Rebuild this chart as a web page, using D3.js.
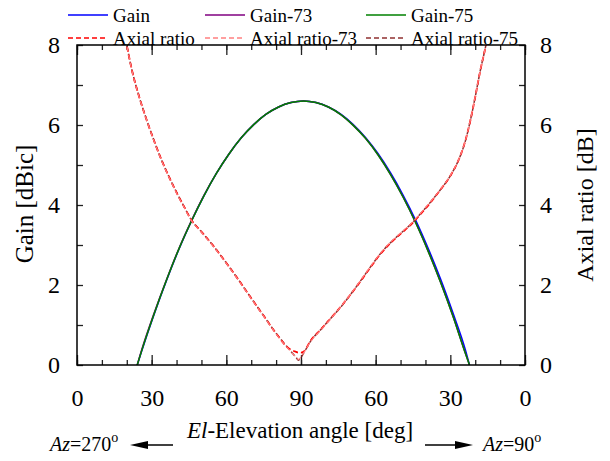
<!DOCTYPE html>
<html>
<head>
<meta charset="utf-8">
<script src="https://cdn.jsdelivr.net/npm/d3@7"></script>
<style>
  body { margin: 0; background: #fff; }
  text { font-family: "Liberation Serif", "Times New Roman", Times, serif; }
  .tick line { stroke: #222; stroke-width: 1.3; }
</style>
</head>
<body>
<svg id="chart" width="610" height="461"></svg>
<script>
var FONT = "'Liberation Serif', 'Times New Roman', Times, serif";

// elevation angle runs 0..90 on the Az=270 side then back 90..0 on the Az=90 side (0..180 here)
var gainAngle = [24.2, 26, 31, 36, 41, 46, 51, 56, 61, 66, 71, 76, 81, 86, 91,
                 96, 101, 106, 111, 116, 121, 126, 131, 136, 141, 146, 151, 156, 157.7];
var gain   = [0, 0.35, 1.27, 2.12, 2.90, 3.60, 4.23, 4.79, 5.27, 5.68, 6.01, 6.27, 6.45, 6.56, 6.60,
              6.56, 6.45, 6.27, 6.01, 5.68, 5.28, 4.80, 4.25, 3.63, 2.93, 2.16, 1.31, 0.39, 0];
var gain73 = [0, 0.38, 1.30, 2.14, 2.92, 3.61, 4.24, 4.79, 5.27, 5.68, 6.01, 6.27, 6.45, 6.56, 6.60,
              6.56, 6.45, 6.26, 5.99, 5.66, 5.25, 4.76, 4.20, 3.57, 2.86, 2.08, 1.23, 0.30, 0];
var gain75 = [0, 0.36, 1.28, 2.13, 2.91, 3.60, 4.23, 4.79, 5.27, 5.68, 6.01, 6.27, 6.45, 6.56, 6.60,
              6.56, 6.45, 6.26, 5.99, 5.66, 5.25, 4.76, 4.20, 3.57, 2.86, 2.08, 1.23, 0.30, 0];

var arAngle = [19, 20, 22, 25, 28, 31, 34, 37, 40, 43, 46, 50, 55, 60, 65, 70, 75, 80, 85, 88, 89, 90,
               91, 94, 98, 102, 106, 110, 114, 118, 122, 126, 130, 134, 138, 142, 146, 150, 153, 156,
               158, 160, 162, 164.3, 165.5];
var ar   = [8.35, 8.0, 7.39, 6.70, 6.12, 5.60, 5.12, 4.70, 4.31, 3.96, 3.62, 3.33, 2.96, 2.55, 2.12, 1.67, 1.23, 0.79, 0.42, 0.33, 0.31, 0.31,
            0.33, 0.62, 0.89, 1.17, 1.46, 1.77, 2.10, 2.45, 2.78, 3.05, 3.28, 3.50, 3.77, 4.06, 4.38, 4.73, 5.08, 5.60,
            6.10, 6.70, 7.35, 8.0, 8.4];
var ar73 = [8.35, 8.0, 7.38, 6.69, 6.12, 5.59, 5.11, 4.69, 4.30, 3.95, 3.61, 3.32, 2.95, 2.54, 2.11, 1.66, 1.22, 0.78, 0.40, 0.20, 0.14, 0.20,
            0.30, 0.60, 0.88, 1.16, 1.46, 1.78, 2.12, 2.47, 2.80, 3.07, 3.30, 3.52, 3.79, 4.08, 4.39, 4.74, 5.09, 5.60,
            6.11, 6.71, 7.36, 8.0, 8.4];
var ar75 = [8.35, 8.0, 7.39, 6.70, 6.13, 5.60, 5.12, 4.70, 4.32, 3.96, 3.62, 3.33, 2.96, 2.55, 2.12, 1.67, 1.23, 0.79, 0.41, 0.19, 0.12, 0.19,
            0.29, 0.61, 0.89, 1.17, 1.45, 1.77, 2.11, 2.46, 2.79, 3.06, 3.29, 3.51, 3.78, 4.07, 4.38, 4.73, 5.08, 5.59,
            6.10, 6.70, 7.35, 8.0, 8.4];

var xMajor = [0, 30, 60, 90, 120, 150, 180];
var yMajor = [0, 2, 4, 6, 8];
var yMinor = [1, 3, 5, 7];

var series = [
  {name: "Gain",           x: gainAngle, y: gain,   color: "#0000ff", dash: null,  w: 1.5, off: 0},
  {name: "Gain-73",        x: gainAngle, y: gain73, color: "#800080", dash: null,  w: 1.5, off: 0},
  {name: "Gain-75",        x: gainAngle, y: gain75, color: "#008000", dash: null,  w: 1.5, off: 0},
  {name: "Axial ratio",    x: arAngle,   y: ar,     color: "#ff0000", dash: "5,3", w: 1.8, off: 0},
  {name: "Axial ratio-73", x: arAngle,   y: ar73,   color: "#ff8080", dash: "5,3", w: 1.2, off: 0},
  {name: "Axial ratio-75", x: arAngle,   y: ar75,   color: "#903030", dash: "5,3", w: 1.5, off: 1}
];
// dark dashes underneath, then red and pink on top
var drawOrder = [0, 1, 2, 5, 3, 4];

var margin = {top: 45, right: 85, bottom: 96, left: 77},
    width = 610 - margin.left - margin.right,
    height = 461 - margin.top - margin.bottom;

var svg = d3.select("#chart").attr("font-family", FONT);
var g = svg.append("g")
    .attr("transform", "translate(" + margin.left + "," + margin.top + ")");

var x = d3.scaleLinear().domain([0, 180]).range([0, width]);
var yL = d3.scaleLinear().domain([0, 8]).range([height, 0]);
var yR = d3.scaleLinear().domain([0, 8]).range([height, 0]);

// clip for curves leaving the frame
g.append("clipPath").attr("id", "clip")
  .append("rect").attr("width", width).attr("height", height);

// x axes (ticks point inward)
g.append("g")
    .attr("transform", "translate(0," + height + ")")
    .call(d3.axisBottom(x).tickValues(d3.range(0, 181, 10)).tickSizeInner(-5).tickSizeOuter(0).tickFormat(""));
g.append("g")
    .attr("transform", "translate(0," + height + ")")
    .call(d3.axisBottom(x).tickValues(xMajor).tickSizeInner(-10).tickSizeOuter(0).tickPadding(24)
      .tickFormat(function(d) { return d <= 90 ? d : 180 - d; }));
g.append("g")
    .call(d3.axisTop(x).tickValues(d3.range(0, 181, 10)).tickSizeInner(-5).tickSizeOuter(0).tickFormat(""));
g.append("g")
    .call(d3.axisTop(x).tickValues(xMajor).tickSizeInner(-10).tickSizeOuter(0).tickFormat(""));

// y axes
g.append("g")
    .call(d3.axisLeft(yL).tickValues(yMajor).tickSizeInner(-6).tickSizeOuter(0).tickPadding(17));
g.append("g")
    .call(d3.axisLeft(yL).tickValues(yMinor).tickSizeInner(-6).tickSizeOuter(0).tickFormat(""));
g.append("g")
    .attr("transform", "translate(" + width + ",0)")
    .call(d3.axisRight(yR).tickValues(yMajor).tickSizeInner(-6).tickSizeOuter(0).tickPadding(15));
g.append("g")
    .attr("transform", "translate(" + width + ",0)")
    .call(d3.axisRight(yR).tickValues(yMinor).tickSizeInner(-6).tickSizeOuter(0).tickFormat(""));

g.selectAll(".domain").remove();
g.selectAll(".tick text")
    .style("font-size", "24px")
    .style("font-family", FONT)
    .attr("fill", "#000");

// curves
var line = d3.line().curve(d3.curveMonotoneX);
drawOrder.forEach(function(i) {
  var s = series[i];
  var scaleY = i < 3 ? yL : yR;
  var pts = s.x.map(function(a, k) { return [x(a), scaleY(s.y[k])]; });
  g.append("path")
    .attr("clip-path", "url(#clip)")
    .attr("d", line(pts))
    .attr("fill", "none")
    .attr("stroke", s.color)
    .attr("stroke-width", s.w)
    .attr("stroke-dasharray", s.dash)
    .attr("stroke-dashoffset", s.off);
});

// frame
g.append("rect")
    .attr("width", width).attr("height", height)
    .attr("fill", "none").attr("stroke", "#000").attr("stroke-width", 1.5);

// axis titles
svg.append("text")
    .attr("transform", "translate(33," + (margin.top + height / 2 - 1) + ") rotate(-90)")
    .attr("text-anchor", "middle")
    .style("font-size", "25px")
    .style("font-family", FONT)
    .text("Gain [dBic]");
svg.append("text")
    .attr("transform", "translate(593," + (margin.top + height / 2) + ") rotate(-90)")
    .attr("text-anchor", "middle")
    .style("font-size", "24px")
    .style("font-family", FONT)
    .text("Axial ratio [dB]");

var xt = svg.append("text")
    .attr("x", 300).attr("y", 438)
    .attr("text-anchor", "middle")
    .style("font-size", "23px")
    .style("font-family", FONT);
xt.append("tspan").style("font-style", "italic").text("El");
xt.append("tspan").text("-Elevation angle [deg]");

// azimuth notes with arrows
function azLabel(xPos, deg) {
  var t = svg.append("text").attr("x", xPos).attr("y", 451)
    .style("font-size", "20px").style("font-family", FONT);
  t.append("tspan").style("font-style", "italic").text("Az");
  t.append("tspan").text("=" + deg);
  t.append("tspan").attr("dy", -9).style("font-size", "14px").text("o");
}
azLabel(50, 270);
azLabel(483, 90);

function arrow(x1, x2) {
  var dir = x2 > x1 ? 1 : -1;
  svg.append("line").attr("x1", x1).attr("x2", x2 - dir * 12).attr("y1", 445).attr("y2", 445)
    .attr("stroke", "#000").attr("stroke-width", 1.5);
  svg.append("path")
    .attr("d", "M" + x2 + ",445 L" + (x2 - dir * 18) + ",441 L" + (x2 - dir * 18) + ",449 Z")
    .attr("fill", "#000");
}
arrow(173, 130);
arrow(425, 473);

// legend, 3 columns x 2 rows
var legX = [68, 205, 366];
var legY = [15, 38];
series.forEach(function(s, i) {
  var lx = legX[i % 3], ly = legY[Math.floor(i / 3)];
  svg.append("line")
    .attr("x1", lx).attr("x2", lx + 40).attr("y1", ly).attr("y2", ly)
    .attr("stroke", s.color).attr("stroke-width", 1.5)
    .attr("stroke-dasharray", s.dash);
  svg.append("text")
    .attr("x", lx + 45).attr("y", ly + 7)
    .style("font-size", "19px")
    .style("font-family", FONT)
    .text(s.name);
});
</script>
</body>
</html>
